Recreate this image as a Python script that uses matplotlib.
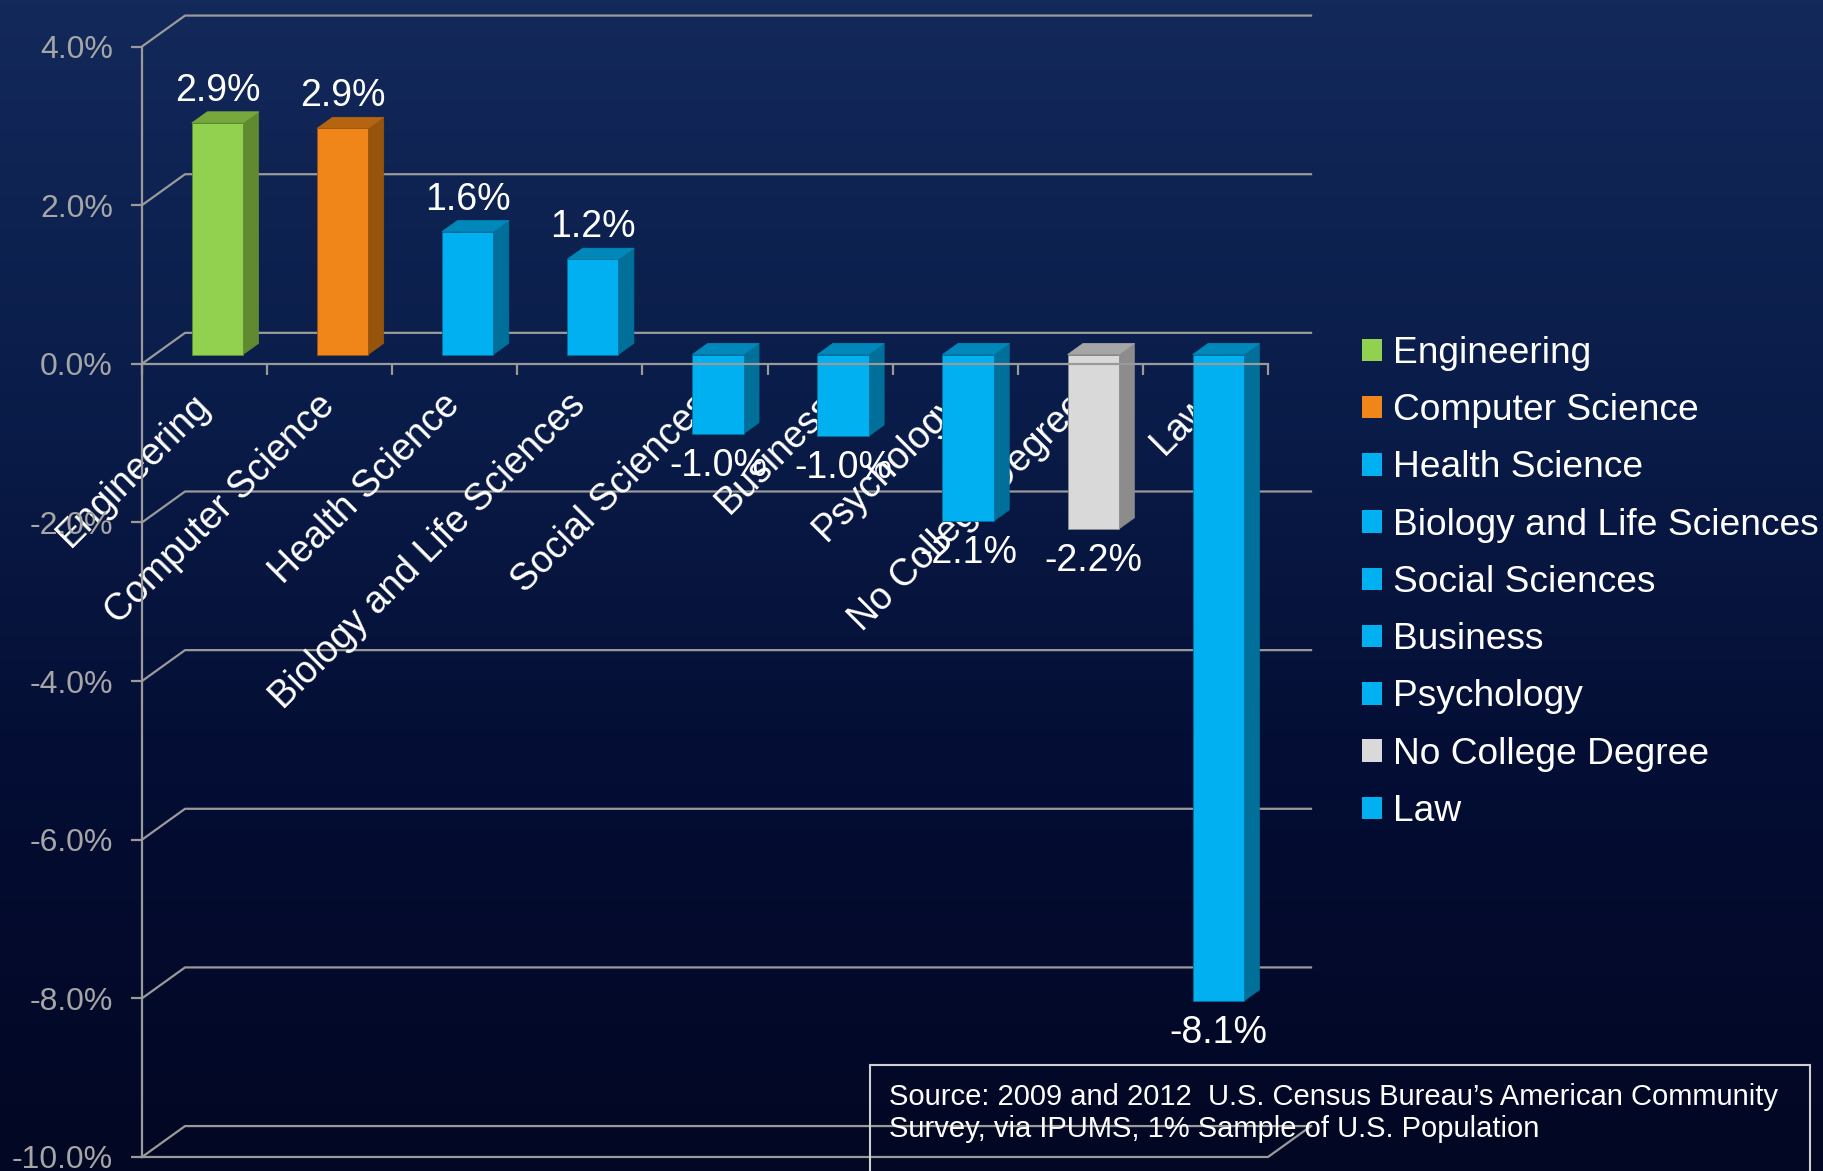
import numpy as np
import matplotlib.pyplot as plt
from matplotlib.patches import Polygon, Rectangle
from matplotlib.colors import LinearSegmentedColormap

plt.rcParams['font.family'] = ['Liberation Sans', 'DejaVu Sans']

# data (percent change)
categories = ["Engineering", "Computer Science", "Health Science",
              "Biology and Life Sciences", "Social Sciences", "Business",
              "Psychology", "No College Degree", "Law"]
values = [2.92, 2.85, 1.55, 1.2, -1.0, -1.03, -2.1, -2.2, -8.15]
value_labels = ["2.9%", "2.9%", "1.6%", "1.2%", "-1.0%", "-1.0%",
                "-2.1%", "-2.2%", "-8.1%"]
yticks = [-10, -8, -6, -4, -2, 0, 2, 4]
source_text = ("Source: 2009 and 2012  U.S. Census Bureau\u2019s American Community\n"
               "Survey, via IPUMS, 1% Sample of U.S. Population")

# front / side / top colours per bar
green = ("#92D050", "#5F8A30", "#76A83C")
orange = ("#F0851A", "#97540D", "#B5650F")
blue = ("#00B0F0", "#00709A", "#0088BB")
grey = ("#D9D9D9", "#8C8C8C", "#A6A6A6")
bar_colors = [green, orange, blue, blue, blue, blue, blue, grey, blue]

W, H = 1824, 1171
fig = plt.figure(figsize=(W / 100, H / 100), dpi=100)

# background gradient
bg = fig.add_axes([0, 0, 1, 1], zorder=-10)
cmap = LinearSegmentedColormap.from_list("bg", ["#13295A", "#0A1D4A", "#040D33", "#020723"])
grad = np.linspace(0, 1, 256).reshape(-1, 1)
bg.imshow(grad, aspect="auto", cmap=cmap, extent=[0, 1, 0, 1])
bg.axis("off")

# front plane of the plot box
left, right = 142 / W, 1268 / W
bottom, top = 1 - 1157 / H, 1 - 46.5 / H
ax = fig.add_axes([left, bottom, right - left, top - bottom])
ax.set_facecolor("none")
ax.set_xlim(-0.5, len(categories) - 0.5)
ax.set_ylim(-10, 4)

gc = "#9A9A9A"
depth_x, depth_y = 0.344, 0.39  # wall depth in data units
x0, x1 = -0.5, len(categories) - 0.5

# back wall gridlines with side diagonals
for v in yticks:
    ax.plot([x0, x0 + depth_x, x1 + depth_x], [v, v + depth_y, v + depth_y],
            color=gc, lw=1.6, clip_on=False, zorder=1)
# bottom front edge
ax.plot([x0, x1, x1 + depth_x], [-10, -10, -10 + depth_y],
        color=gc, lw=1.6, clip_on=False, zorder=1)

# 3D-looking bars
bw = 0.41
bx, by = 0.3 * depth_x, 0.3 * depth_y  # front face offset
dx, dy = 0.36 * depth_x, 0.36 * depth_y  # bar depth
for i, (v, col) in enumerate(zip(values, bar_colors)):
    xl = i - bw / 2 + bx
    xr = i + bw / 2 + bx
    y0 = by
    y1 = v + by
    lo, hi = min(y0, y1), max(y0, y1)
    z = 3
    ax.add_patch(Polygon([(xr, lo), (xr + dx, lo + dy), (xr + dx, hi + dy), (xr, hi)],
                         closed=True, facecolor=col[1], edgecolor=col[1], lw=0.5,
                         clip_on=False, zorder=z))
    ax.add_patch(Polygon([(xl, hi), (xl + dx, hi + dy), (xr + dx, hi + dy), (xr, hi)],
                         closed=True, facecolor=col[2], edgecolor=col[2], lw=0.5,
                         clip_on=False, zorder=z))
    ax.add_patch(Rectangle((xl, lo), bw, hi - lo, facecolor=col[0],
                           edgecolor=col[1], lw=0.6, clip_on=False, zorder=z + 1))
    off = 23 if v > 0 else -23
    ax.annotate(value_labels[i], (i + bx, y1), xytext=(0, off),
                textcoords="offset points", ha="center", va="center",
                color="white", fontsize=27, zorder=6)

# axes styling
for s in ["top", "right"]:
    ax.spines[s].set_visible(False)
ax.spines["left"].set_color(gc)
ax.spines["left"].set_linewidth(1.6)
ax.spines["bottom"].set_position(("data", 0))
ax.spines["bottom"].set_color(gc)
ax.spines["bottom"].set_linewidth(1.6)
ax.spines["bottom"].set_zorder(5)

ax.set_yticks(yticks)
ax.set_yticklabels([f"{v:.1f}%" for v in yticks])
ax.tick_params(axis="y", colors=gc, labelcolor="#A6A6A6", labelsize=23,
               length=8, width=1.6, direction="out", pad=13)

ax.set_xticks(np.arange(len(categories) + 1) - 0.5)
ax.set_xticklabels([])
ax.set_xticks(np.arange(len(categories)), minor=True)
ax.set_xticklabels(categories, minor=True, rotation=45, ha="right",
                   rotation_mode="anchor", color="white", fontsize=27)
ax.tick_params(axis="x", which="major", colors=gc, length=8, width=1.6, direction="out")
ax.tick_params(axis="x", which="minor", length=0, pad=26)
for lab in ax.get_xticklabels(minor=True):
    lab.set_verticalalignment("center")
    lab.set_zorder(7)

# legend
handles = [Rectangle((0, 0), 1, 1, facecolor=c[0], edgecolor="none") for c in bar_colors]
leg = fig.legend(handles, categories, loc="upper left",
                 bbox_to_anchor=(1362 / W, 1 - 336 / H), frameon=False,
                 fontsize=26.7, labelcolor="white", handlelength=0.55,
                 handleheight=0.55, handletextpad=0.28, labelspacing=0.6,
                 borderpad=0, borderaxespad=0)

# source note box
fig.text(889 / W, 1 - 1113 / H, source_text, color="white", fontsize=21,
         va="center", ha="left", linespacing=1.15)
fig.add_artist(Rectangle((870 / W, -0.02), (1810 - 870) / W, 0.02 + (H - 1065) / H,
                         transform=fig.transFigure, facecolor="none",
                         edgecolor="#D0D0D0", lw=1.5))

fig.savefig("out.png", dpi=100)
